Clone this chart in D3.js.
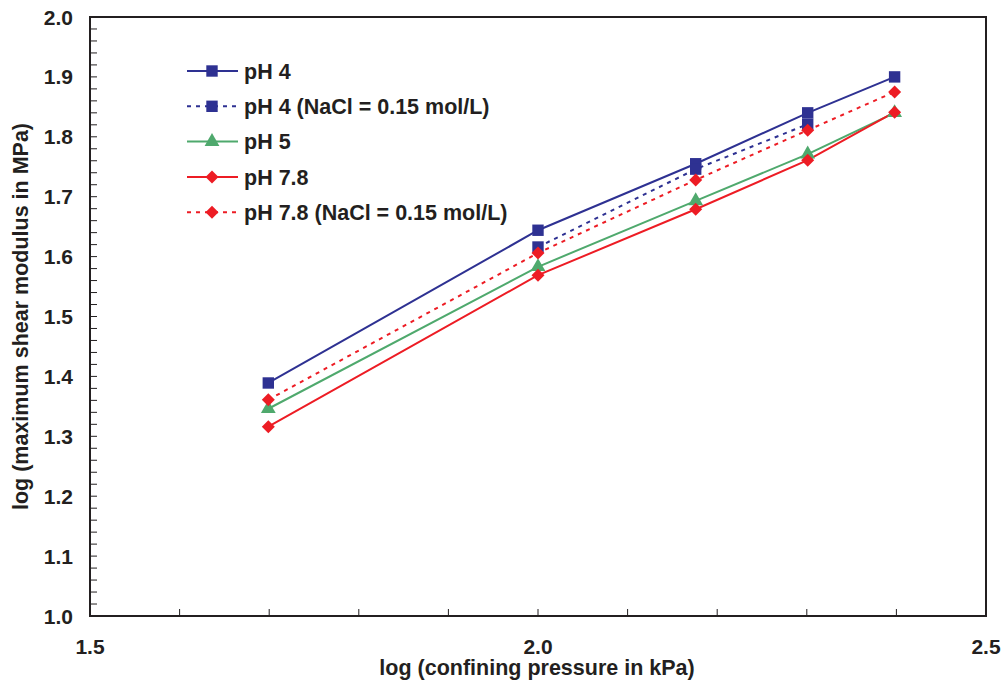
<!DOCTYPE html>
<html>
<head>
<meta charset="utf-8">
<script src="https://cdn.jsdelivr.net/npm/d3@7"></script>
<style>
  body { margin: 0; background: #fff; }
  text { font-family: "Liberation Sans", Arial, Helvetica, sans-serif; font-weight: bold; fill: #231f20; }
</style>
</head>
<body>
<div id="chart"></div>
<script>
// log (confining pressure in kPa) for 50, 100, 150, 200, 250 kPa
const pressures = [1.699, 2.0, 2.176, 2.301, 2.398];

const ph4 = [1.389, 1.644, 1.755, 1.840, 1.900];
const ph4NaCl = [null, 1.616, 1.746, 1.821, null];
const ph5 = [1.346, 1.583, 1.693, 1.771, 1.840];
const ph78 = [1.316, 1.569, 1.679, 1.761, 1.841];
const ph78NaCl = [1.361, 1.606, 1.728, 1.811, 1.875];

const seriesNames = ["pH 4", "pH 4 (NaCl = 0.15 mol/L)", "pH 5", "pH 7.8", "pH 7.8 (NaCl = 0.15 mol/L)"];
const xTickLabels = [1.5, 2.0, 2.5];
const yTickLabels = [1.0, 1.1, 1.2, 1.3, 1.4, 1.5, 1.6, 1.7, 1.8, 1.9, 2.0];

const blue = "#2e3192", green = "#4fa96d", red = "#ed1c24";
const series = [
    { name: seriesNames[0], values: ph4, color: blue, dash: null, symbol: d3.symbolSquare },
    { name: seriesNames[1], values: ph4NaCl, color: blue, dash: "4,5", symbol: d3.symbolSquare },
    { name: seriesNames[2], values: ph5, color: green, dash: null, symbol: d3.symbolTriangle },
    { name: seriesNames[3], values: ph78, color: red, dash: null, symbol: "diamond" },
    { name: seriesNames[4], values: ph78NaCl, color: red, dash: "4,5", symbol: "diamond" }
];

const width = 1001, height = 685;
const margin = { top: 17, right: 15, bottom: 69, left: 90 };

const svg = d3.select("#chart").append("svg")
    .attr("width", width)
    .attr("height", height);

const x = d3.scaleLinear().domain([1.5, 2.5]).range([margin.left, width - margin.right]);
const y = d3.scaleLinear().domain([1.0, 2.0]).range([height - margin.bottom, margin.top]);

// minor ticks pointing inward
const axisColor = "#231f20";
svg.append("g")
    .selectAll("line")
    .data(d3.range(1.6, 2.45, 0.1))
    .join("line")
    .attr("x1", d => x(d)).attr("x2", d => x(d))
    .attr("y1", y(1.0)).attr("y2", y(1.0) - 7)
    .attr("stroke", axisColor).attr("stroke-width", 1);

svg.append("g")
    .selectAll("line")
    .data(d3.range(1.02, 1.995, 0.02))
    .join("line")
    .attr("x1", x(1.5)).attr("x2", x(1.5) + 7)
    .attr("y1", d => y(d)).attr("y2", d => y(d))
    .attr("stroke", axisColor).attr("stroke-width", 1);

// frame
svg.append("rect")
    .attr("x", x(1.5)).attr("y", y(2.0))
    .attr("width", x(2.5) - x(1.5)).attr("height", y(1.0) - y(2.0))
    .attr("fill", "none").attr("stroke", axisColor).attr("stroke-width", 2);

// tick labels
svg.append("g")
    .selectAll("text")
    .data(xTickLabels)
    .join("text")
    .attr("x", d => x(d))
    .attr("y", y(1.0) + 38)
    .attr("text-anchor", "middle")
    .attr("font-size", 21)
    .text(d => d.toFixed(1));

svg.append("g")
    .selectAll("text")
    .data(yTickLabels)
    .join("text")
    .attr("x", x(1.5) - 17)
    .attr("y", d => y(d))
    .attr("dy", "0.36em")
    .attr("text-anchor", "end")
    .attr("font-size", 21)
    .text(d => d.toFixed(1));

// axis titles
svg.append("text")
    .attr("x", (x(1.5) + x(2.5)) / 2 - 1)
    .attr("y", 675)
    .attr("text-anchor", "middle")
    .attr("font-size", 21.5)
    .text("log (confining pressure in kPa)");

svg.append("text")
    .attr("transform", `translate(28,${(y(1.0) + y(2.0)) / 2}) rotate(-90)`)
    .attr("text-anchor", "middle")
    .attr("font-size", 21.5)
    .text("log (maximum shear modulus in MPa)");

const diamondPath = s => `M0,${-s}L${s},0L0,${s}L${-s},0Z`;
function marker(sel, sym, color) {
    if (sym === "diamond") {
        sel.attr("d", diamondPath(6.5));
    } else if (sym === d3.symbolTriangle) {
        sel.attr("d", d3.symbol(sym, 95)());
    } else {
        sel.attr("d", d3.symbol(sym, 130)());
    }
    sel.attr("fill", color);
}

const line = d3.line()
    .defined(d => d[1] != null)
    .x(d => x(d[0]))
    .y(d => y(d[1]));

const plot = svg.append("g");
series.forEach(s => {
    const pts = pressures.map((p, i) => [p, s.values[i]]);
    plot.append("path")
        .datum(pts)
        .attr("fill", "none")
        .attr("stroke", s.color)
        .attr("stroke-width", 2)
        .attr("stroke-dasharray", s.dash)
        .attr("d", line);
});
series.forEach(s => {
    const pts = pressures.map((p, i) => [p, s.values[i]]).filter(d => d[1] != null);
    plot.append("g")
        .selectAll("path")
        .data(pts)
        .join("path")
        .attr("transform", d => `translate(${x(d[0])},${y(d[1])})`)
        .call(marker, s.symbol, s.color);
});

// legend
const legend = svg.append("g").attr("transform", "translate(187,71)");
series.forEach((s, i) => {
    const row = legend.append("g").attr("transform", `translate(0,${i * 35.3})`);
    row.append("line")
        .attr("x1", 0).attr("x2", 51)
        .attr("stroke", s.color).attr("stroke-width", 2)
        .attr("stroke-dasharray", s.dash);
    row.append("path")
        .attr("transform", "translate(25,0)")
        .call(marker, s.symbol, s.color);
    row.append("text")
        .attr("x", 57)
        .attr("dy", "0.36em")
        .attr("font-size", 21.5)
        .text(s.name);
});
</script>
</body>
</html>
